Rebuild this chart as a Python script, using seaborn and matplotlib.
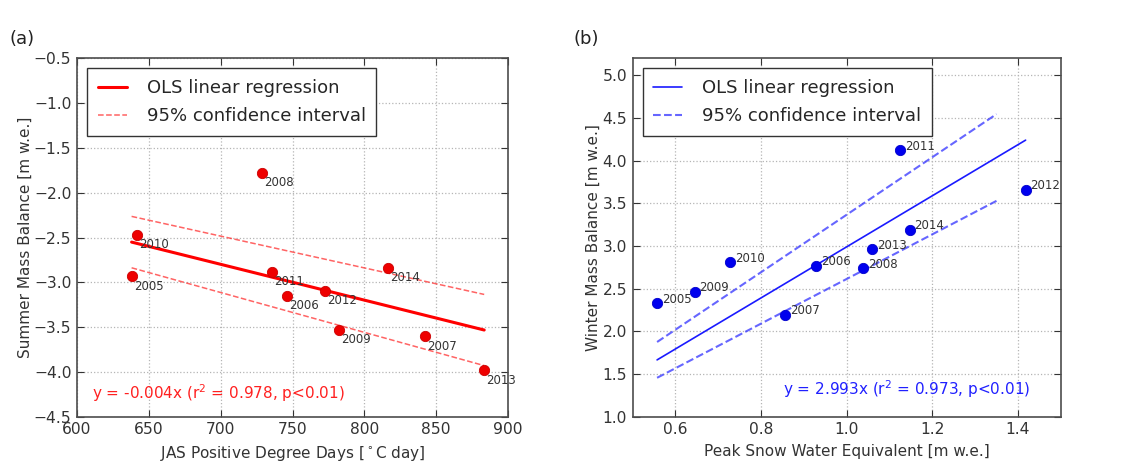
import numpy as np
import pandas as pd
import matplotlib
matplotlib.use("Agg")
import matplotlib.pyplot as plt
import seaborn as sns

# ---- data ----
years = ["2005", "2006", "2007", "2008", "2009", "2010", "2011", "2012", "2013", "2014"]
pdd = [638, 746, 842, 729, 782.6, 641.5, 735.7, 772.8, 883.4, 816.2]
summer_mb = [-2.93, -3.15, -3.60, -1.78, -3.53, -2.47, -2.885, -3.097, -3.98, -2.84]
peak_swe = [0.557, 0.928, 0.856, 1.038, 0.645, 0.728, 1.125, 1.418, 1.059, 1.147]
winter_mb = [2.33, 2.77, 2.19, 2.74, 2.46, 2.81, 4.12, 3.66, 2.96, 3.186]
t_crit = 2.262          # t(0.975, df=9)
swe_ci_end = 1.35       # CI lines in (b) stop here in the reference
eq_a = "y = -0.004x (r$^2$ = 0.978, p<0.01)"
eq_b = "y = 2.993x (r$^2$ = 0.973, p<0.01)"

sns.set_theme(style="white")
plt.rcParams.update({
    "font.family": ["DejaVu Sans"],
    "axes.edgecolor": "#4d4d4d",
    "axes.linewidth": 1.2,
    "xtick.direction": "in",
    "ytick.direction": "in",
    "xtick.top": True,
    "ytick.right": True,
    "xtick.bottom": True,
    "ytick.left": True,
    "xtick.major.size": 5,
    "ytick.major.size": 5,
    "xtick.color": "#333333",
    "ytick.color": "#333333",
    "xtick.labelsize": 11.2,
    "ytick.labelsize": 11.2,
    "axes.labelsize": 11,
    "axes.labelcolor": "#333333",
    "axes.unicode_minus": True,
})

df_a = pd.DataFrame({"year": years, "x": pdd, "y": summer_mb})
df_b = pd.DataFrame({"year": years, "x": peak_swe, "y": winter_mb})


def origin_fit(x, y):
    x = np.asarray(x, float)
    y = np.asarray(y, float)
    b = np.sum(x * y) / np.sum(x * x)
    resid = y - b * x
    s2 = np.sum(resid ** 2) / (len(x) - 1)
    se = np.sqrt(s2 / np.sum(x * x))
    return b, b - t_crit * se, b + t_crit * se


fig = plt.figure(figsize=(11.29, 4.75), dpi=100)
ax_a = fig.add_axes([0.0682, 0.1227, 0.3818, 0.7546])
ax_b = fig.add_axes([0.5604, 0.1227, 0.3791, 0.7546])

grid_kw = dict(color="#b5b5b5", linestyle=":", linewidth=0.9)
leg_kw = dict(loc="upper left", fontsize=13, fancybox=False, framealpha=1,
              edgecolor="#333333", borderaxespad=0.55, handlelength=1.6,
              handletextpad=1.1, borderpad=0.6, labelspacing=0.55)

# ---- panel (a) ----
b, lo, hi = origin_fit(df_a.x, df_a.y)
xs = np.array([df_a.x.min(), df_a.x.max()])
ax_a.plot(xs, b * xs, color="#ff0000", lw=2.2, label="OLS linear regression", zorder=2)
ax_a.plot(xs, hi * xs, color="#ff3030", lw=1.1, ls="--", alpha=0.75,
          label="95% confidence interval", zorder=2)
ax_a.plot(xs, lo * xs, color="#ff3030", lw=1.1, ls="--", alpha=0.75, zorder=2)
sns.scatterplot(data=df_a, x="x", y="y", ax=ax_a, color="#ee0000", s=55,
                edgecolor="#cc0000", linewidth=0.6, zorder=3, legend=False)
for _, r in df_a.iterrows():
    ax_a.annotate(r.year, (r.x, r.y), xytext=(1.5, -2.5), textcoords="offset points",
                  ha="left", va="top", fontsize=8.5, color="#333333")
ax_a.set_xlim(600, 900)
ax_a.set_ylim(-4.5, -0.5)
ax_a.set_xticks(np.arange(600, 901, 50))
ax_a.set_yticks(np.arange(-4.5, -0.49, 0.5))
ax_a.grid(True, **grid_kw)
ax_a.set_xlabel(r"JAS Positive Degree Days [$^\circ$C day]", labelpad=5)
ax_a.set_ylabel("Summer Mass Balance [m w.e.]", labelpad=1)
ax_a.text(0.035, 0.066, eq_a, transform=ax_a.transAxes,
          color="#ff2020", fontsize=11, va="center", ha="left")
leg = ax_a.legend(**leg_kw)
leg.get_frame().set_linewidth(1.0)

# ---- panel (b) ----
b2, lo2, hi2 = origin_fit(df_b.x, df_b.y)
xs2 = np.array([df_b.x.min(), df_b.x.max()])
xs2ci = np.array([df_b.x.min(), swe_ci_end])
ax_b.plot(xs2, b2 * xs2, color="#1a1aff", lw=1.2, label="OLS linear regression", zorder=2)
ax_b.plot(xs2ci, hi2 * xs2ci, color="#3333ff", lw=1.5, ls="--", alpha=0.75,
          label="95% confidence interval", zorder=2)
ax_b.plot(xs2ci, lo2 * xs2ci, color="#3333ff", lw=1.5, ls="--", alpha=0.75, zorder=2)
sns.scatterplot(data=df_b, x="x", y="y", ax=ax_b, color="#0000ee", s=55,
                edgecolor="#0000cc", linewidth=0.6, zorder=3, legend=False)
for _, r in df_b.iterrows():
    ax_b.annotate(r.year, (r.x, r.y), xytext=(3.5, 0.5), textcoords="offset points",
                  ha="left", va="baseline", fontsize=8.5, color="#333333")
ax_b.set_xlim(0.5, 1.5)
ax_b.set_ylim(1.0, 5.2)
ax_b.set_xticks([0.6, 0.8, 1.0, 1.2, 1.4])
ax_b.set_yticks(np.arange(1.0, 5.01, 0.5))
ax_b.grid(True, **grid_kw)
ax_b.set_xlabel("Peak Snow Water Equivalent [m w.e.]", labelpad=5)
ax_b.set_ylabel("Winter Mass Balance [m w.e.]", labelpad=1)
ax_b.text(0.351, 0.076, eq_b, transform=ax_b.transAxes,
          color="#2020ff", fontsize=11, va="center", ha="left")
leg2 = ax_b.legend(**leg_kw)
leg2.get_frame().set_linewidth(1.0)

for ax in (ax_a, ax_b):
    for sp in ax.spines.values():
        sp.set_visible(True)
    ax.tick_params(which="both", length=5, width=0.8, pad=4)

fig.text(0.008, 0.918, "(a)", fontsize=13, va="center", ha="left", color="#222222")
fig.text(0.508, 0.918, "(b)", fontsize=13, va="center", ha="left", color="#222222")

fig.savefig("out.png", dpi=100, facecolor="white")
